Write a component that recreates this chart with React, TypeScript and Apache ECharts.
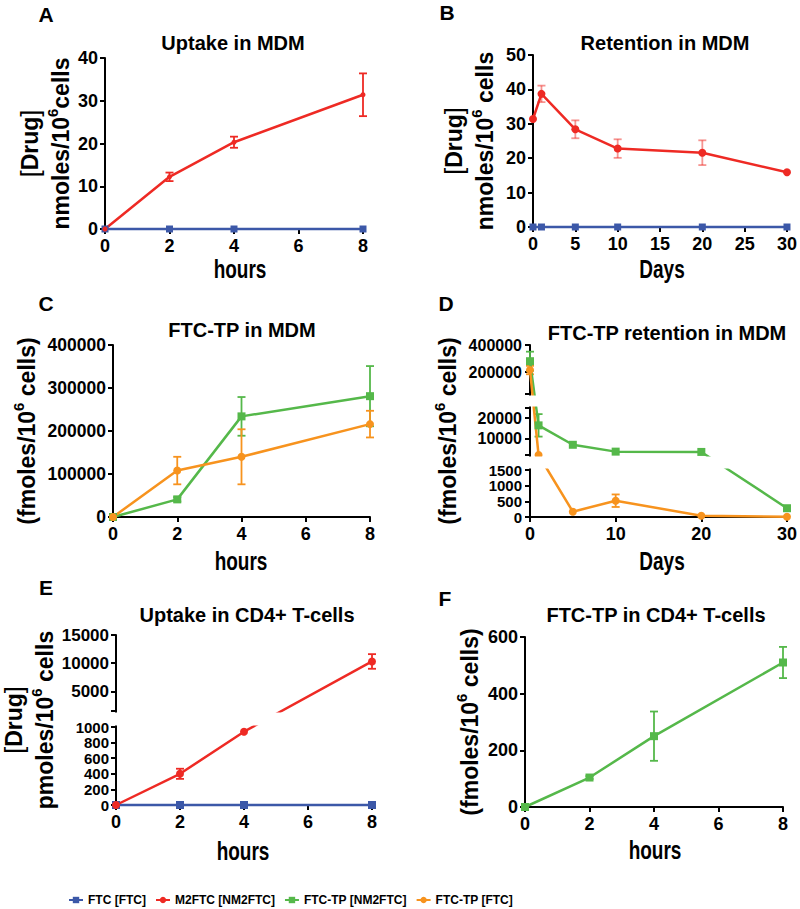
import React, { useEffect, useRef } from 'react';
import * as echarts from 'echarts';

// ---------- data ----------
const SERIES_NAMES = ['FTC [FTC]', 'M2FTC [NM2FTC]', 'FTC-TP [NM2FTC]', 'FTC-TP [FTC]'];

// Panel A: Uptake in MDM (nmoles/10^6 cells)
const hoursA = [0, 2, 4, 8];
const aFTC = [0, 0, 0, 0];
const aM2FTC = [0, 12.2, 20.3, 31.4];
const aM2FTCErr = [0, 1.0, 1.3, 5.0];

// Panel B: Retention in MDM
const daysB = [0, 1, 5, 10, 20, 30];
const bFTC = [0, 0, 0, 0, 0, 0];
const bM2FTC = [31.4, 38.7, 28.4, 22.8, 21.6, 15.9];
const bM2FTCErr = [0, 2.4, 2.6, 2.7, 3.6, 0];

// Panel C: FTC-TP in MDM (fmoles/10^6 cells)
const hoursC = [0, 2, 4, 8];
const cTPNM = [0, 41000, 234000, 281000];
const cTPNMErr = [0, 5000, 45000, 70000];
const cTPFTC = [0, 108000, 140000, 216000];
const cTPFTCErr = [0, 32000, 64000, 31000];

// Panel D: FTC-TP retention in MDM (broken axis)
const daysD = [0, 1, 5, 10, 20, 30];
const dTPNM = [281000, 16500, 7000, 3650, 3500, 280];
const dTPNMErr = [70000, 5500, 0, 0, 0, 0];
const dTPFTC = [216000, 2000, 170, 520, 40, 10];
const dTPFTCErr = [31000, 0, 0, 200, 0, 0];
const dRanges = [[0, 1500], [2000, 25000], [40000, 400000]];
const dTickLabels = [0, 500, 1000, 1500, 10000, 20000, 200000, 400000];

// Panel E: Uptake in CD4+ T-cells (pmoles/10^6 cells, broken axis)
const hoursE = [0, 2, 4, 8];
const eFTC = [0, 0, 0, 0];
const eM2FTC = [0, 400, 940, 10300];
const eM2FTCErr = [0, 65, 0, 1300];
const eRanges = [[0, 1000], [1500, 15000]];
const eTickLabels = [0, 200, 400, 600, 800, 1000, 5000, 10000, 15000];

// Panel F: FTC-TP in CD4+ T-cells
const hoursF = [0, 2, 4, 8];
const fTPNM = [0, 104, 250, 510];
const fTPNMErr = [0, 5, 87, 55];

const TITLES = ['Uptake in MDM', 'Retention in MDM', 'FTC-TP in MDM', 'FTC-TP retention in MDM', 'Uptake in CD4+ T-cells', 'FTC-TP in CD4+ T-cells'];
const LETTERS = ['A', 'B', 'C', 'D', 'E', 'F'];
const X_NAMES = ['hours', 'Days', 'hours', 'Days', 'hours', 'hours'];

// ---------- layout / style ----------
const GRIDS = [
  { left: 105, top: 58, width: 258, height: 171 },
  { left: 533, top: 55, width: 256, height: 172 },
  { left: 113, top: 345, width: 257, height: 172 },
  { left: 530, top: 345, width: 257, height: 172 },
  { left: 114, top: 635, width: 258, height: 170 },
  { left: 525, top: 637, width: 258, height: 170 },
];
const TITLE_POS = [[233, 43], [665, 43], [242, 330], [667, 333], [247, 615], [656, 615]];
const LETTER_POS = [[46, 14], [447, 12], [46, 303], [446, 303], [46, 587], [445, 598]];
const XNAME_POS = [[240, 270], [662, 270], [241, 562], [662, 562], [243, 852], [655, 851]];
const D_SEG_PX = [47, 47, 49];
const D_GAP_PX = [15, 14];
const E_SEG_PX = [78, 76];
const E_GAP_PX = [16];

const C_FTC = '#3c58a8';
const C_M2 = '#ee2a24';
const C_TPNM = '#55b84a';
const C_TPFTC = '#f7931e';
const FONT = '"Liberation Sans", Arial, sans-serif';

function makeBroken(ranges: number[][], segPx: number[], gapPx: number[]) {
  const bottoms: number[] = [];
  let acc = 0;
  for (let i = 0; i < ranges.length; i++) {
    bottoms.push(acc);
    acc += segPx[i] + (i < gapPx.length ? gapPx[i] : 0);
  }
  const total = acc;
  const map = (v: number) => {
    for (let i = 0; i < ranges.length; i++) {
      const [lo, hi] = ranges[i];
      const last = i === ranges.length - 1;
      if (v <= hi || last) {
        if (i > 0 && v < lo) {
          const phi = ranges[i - 1][1];
          return bottoms[i - 1] + segPx[i - 1] + ((v - phi) / (lo - phi)) * gapPx[i - 1];
        }
        return bottoms[i] + ((v - lo) / (hi - lo)) * segPx[i];
      }
    }
    return 0;
  };
  return { map, total, bottoms };
}

const ident = (v: number) => v;

function lineSeries(name: string, g: number, xs: number[], ys: number[], color: string, symbol: string, size: number, map = ident) {
  return {
    name,
    type: 'line',
    xAxisIndex: g,
    yAxisIndex: g,
    data: xs.map((x, i) => [x, map(ys[i])]),
    symbol,
    symbolSize: size,
    clip: false,
    lineStyle: { color, width: 2.5 },
    itemStyle: { color },
    emphasis: { disabled: true },
  };
}

function errSeries(g: number, xs: number[], ys: number[], errs: number[], color: string, map = ident, opacity = 1) {
  const data = xs
    .map((x, i) => [x, map(ys[i] - errs[i]), map(ys[i] + errs[i]), errs[i]])
    .filter((d) => d[3] > 0);
  return {
    type: 'custom',
    name: 'err',
    xAxisIndex: g,
    yAxisIndex: g,
    silent: true,
    clip: false,
    z: 3,
    data,
    encode: { x: 0, y: [1, 2] },
    renderItem: (_p: any, api: any) => {
      const x = api.value(0);
      const lo = api.coord([x, api.value(1)]);
      const hi = api.coord([x, api.value(2)]);
      const w = 4;
      const style = { stroke: color, lineWidth: 1.8, opacity };
      return {
        type: 'group',
        children: [
          { type: 'line', shape: { x1: lo[0], y1: lo[1], x2: hi[0], y2: hi[1] }, style },
          { type: 'line', shape: { x1: hi[0] - w, y1: hi[1], x2: hi[0] + w, y2: hi[1] }, style },
          { type: 'line', shape: { x1: lo[0] - w, y1: lo[1], x2: lo[0] + w, y2: lo[1] }, style },
        ],
      };
    },
  };
}

const axisLine = { show: true, onZero: false, lineStyle: { color: '#000', width: 2 } };
const axisTick = { show: true, length: 5, lineStyle: { color: '#000', width: 2 } };
const tickFont = (size: number) => ({ color: '#000', fontFamily: FONT, fontWeight: 'bold', fontSize: size });
const plain = (v: number) => String(v);

function xAxis(g: number, max: number, interval: number) {
  return {
    gridIndex: g,
    type: 'value',
    min: 0,
    max,
    interval,
    axisLine,
    axisTick,
    axisLabel: { ...tickFont(18), margin: 8, formatter: plain, showMinLabel: true, showMaxLabel: true, hideOverlap: false },
    splitLine: { show: false },
  };
}

const nameRich = {
  a: { fontFamily: FONT, fontWeight: 'bold', fontSize: 23, color: '#000', lineHeight: 31 },
  b: { fontFamily: FONT, fontWeight: 'bold', fontSize: 23, color: '#000', lineHeight: 31 },
  bn: { fontFamily: FONT, fontWeight: 'normal', fontSize: 25, color: '#000', lineHeight: 31 },
  s: { fontFamily: FONT, fontWeight: 'bold', fontSize: 15, color: '#000', lineHeight: 20, verticalAlign: 'top' },
};

function yName(text: string, nameGap: number) {
  return {
    name: text,
    nameLocation: 'middle',
    nameRotate: 90,
    nameGap,
    nameTextStyle: { rich: nameRich },
  };
}

export default function App() {
  const ref = useRef<HTMLDivElement>(null);
  useEffect(() => {
    if (!ref.current) return;
    const chart = echarts.init(ref.current, undefined, { renderer: 'svg' });

    const dScale = makeBroken(dRanges, D_SEG_PX, D_GAP_PX);
    const eScale = makeBroken(eRanges, E_SEG_PX, E_GAP_PX);

    const dTicks = Array.from(new Set([...dTickLabels, ...dRanges.flat()])).map((v) => dScale.map(v));
    const dLabelPos = dTickLabels.map((v) => dScale.map(v));
    const eTicks = Array.from(new Set([...eTickLabels, ...eRanges.flat()])).map((v) => eScale.map(v));
    const eLabelPos = eTickLabels.map((v) => eScale.map(v));

    const findLabel = (pos: number[], labels: number[], v: number) => {
      for (let i = 0; i < pos.length; i++) if (Math.abs(pos[i] - v) < 0.01) return labels[i];
      return null;
    };

    const gapRects = (gIdx: number, scale: any, segPx: number[], gapPx: number[]) => {
      const g = GRIDS[gIdx];
      const base = g.top + g.height;
      return gapPx.map((gp, i) => {
        const bottomPx = base - (scale.bottoms[i] + segPx[i]);
        const topPx = bottomPx - gp;
        return {
          type: 'rect',
          z: 100,
          shape: { x: g.left - 3, y: topPx + 1.5, width: g.width + 14, height: gp - 3 },
          style: { fill: '#ffffff' },
        };
      });
    };

    const yLbl = (size: number) => ({ ...tickFont(size), margin: 7, formatter: plain, showMinLabel: true, showMaxLabel: true, hideOverlap: false });

    const option: any = {
      animation: false,
      backgroundColor: '#ffffff',
      grid: GRIDS.map((g) => ({ ...g, containLabel: false })),
      legend: {
        data: SERIES_NAMES,
        left: 63,
        top: 889,
        itemWidth: 14,
        itemHeight: 8,
        itemGap: 9,
        selectedMode: false,
        textStyle: { fontFamily: FONT, fontWeight: 'bold', fontSize: 12, color: '#000' },
      },
      xAxis: [
        xAxis(0, 8, 2),
        xAxis(1, 30, 5),
        xAxis(2, 8, 2),
        xAxis(3, 30, 10),
        xAxis(4, 8, 2),
        xAxis(5, 8, 2),
      ],
      yAxis: [
        {
          gridIndex: 0, type: 'value', min: 0, max: 40, interval: 10,
          ...yName('{bn|[}{b|Drug}{bn|]}\n{a|nmoles/10}{s|6}{a|cells}', 29),
          axisLine, axisTick, axisLabel: yLbl(18), splitLine: { show: false },
        },
        {
          gridIndex: 1, type: 'value', min: 0, max: 50, interval: 10,
          ...yName('{bn|[}{b|Drug}{bn|]}\n{a|nmoles/10}{s|6}{a| cells}', 33),
          axisLine, axisTick, axisLabel: yLbl(18), splitLine: { show: false },
        },
        {
          gridIndex: 2, type: 'value', min: 0, max: 400000, interval: 100000,
          ...yName('{a|(fmoles/10}{s|6}{a| cells)}', 71),
          axisLine, axisTick, axisLabel: yLbl(17.5), splitLine: { show: false },
        },
        {
          gridIndex: 3, type: 'value', min: 0, max: dScale.total,
          ...yName('{a|(fmoles/10}{s|6}{a| cells)}', 67),
          axisLine,
          axisTick: { ...axisTick, customValues: dTicks },
          axisLabel: {
            ...tickFont(16), margin: 8, customValues: dLabelPos,
            showMinLabel: true, showMaxLabel: true, hideOverlap: false,
            formatter: (v: number) => {
              const l = findLabel(dLabelPos, dTickLabels, v);
              if (l == null) return '';
              return l <= 1500 ? `{s|${l}}` : `{l|${l}}`;
            },
            rich: {
              s: { fontFamily: FONT, fontWeight: 'bold', fontSize: 15, lineHeight: 14, color: '#000' },
              l: { fontFamily: FONT, fontWeight: 'bold', fontSize: 16, color: '#000' },
            },
          },
          splitLine: { show: false },
        },
        {
          gridIndex: 4, type: 'value', min: 0, max: eScale.total,
          ...yName('{bn|[}{b|Drug}{bn|]}\n{a|pmoles/10}{s|6}{a| cells}', 56),
          axisLine,
          axisTick: { ...axisTick, customValues: eTicks },
          axisLabel: {
            ...tickFont(17), margin: 7, customValues: eLabelPos,
            showMinLabel: true, showMaxLabel: true, hideOverlap: false,
            formatter: (v: number) => {
              const l = findLabel(eLabelPos, eTickLabels, v);
              if (l == null) return '';
              return l <= 1000 ? `{s|${l}}` : `{l|${l}}`;
            },
            rich: {
              s: { fontFamily: FONT, fontWeight: 'bold', fontSize: 15, lineHeight: 14, color: '#000' },
              l: { fontFamily: FONT, fontWeight: 'bold', fontSize: 17, color: '#000' },
            },
          },
          splitLine: { show: false },
        },
        {
          gridIndex: 5, type: 'value', min: 0, max: 600, interval: 200,
          ...yName('{a|(fmoles/10}{s|6}{a| cells)}', 40),
          axisLine, axisTick, axisLabel: yLbl(18), splitLine: { show: false },
        },
      ],
      series: [
        // A
        lineSeries(SERIES_NAMES[0], 0, hoursA, aFTC, C_FTC, 'rect', 7),
        lineSeries(SERIES_NAMES[1], 0, hoursA, aM2FTC, C_M2, 'circle', 5),
        errSeries(0, hoursA, aM2FTC, aM2FTCErr, C_M2),
        // B
        lineSeries(SERIES_NAMES[0], 1, daysB, bFTC, C_FTC, 'rect', 7),
        lineSeries(SERIES_NAMES[1], 1, daysB, bM2FTC, C_M2, 'circle', 8),
        errSeries(1, daysB, bM2FTC, bM2FTCErr, C_M2, ident, 0.5),
        // C
        lineSeries(SERIES_NAMES[2], 2, hoursC, cTPNM, C_TPNM, 'rect', 8),
        lineSeries(SERIES_NAMES[3], 2, hoursC, cTPFTC, C_TPFTC, 'circle', 8),
        errSeries(2, hoursC, cTPNM, cTPNMErr, C_TPNM),
        errSeries(2, hoursC, cTPFTC, cTPFTCErr, C_TPFTC),
        // D
        lineSeries(SERIES_NAMES[2], 3, daysD, dTPNM, C_TPNM, 'rect', 8, dScale.map),
        lineSeries(SERIES_NAMES[3], 3, daysD, dTPFTC, C_TPFTC, 'circle', 8, dScale.map),
        errSeries(3, daysD, dTPNM, dTPNMErr, C_TPNM, dScale.map),
        errSeries(3, daysD, dTPFTC, dTPFTCErr, C_TPFTC, dScale.map),
        // E
        lineSeries(SERIES_NAMES[0], 4, hoursE, eFTC, C_FTC, 'rect', 8, eScale.map),
        lineSeries(SERIES_NAMES[1], 4, hoursE, eM2FTC, C_M2, 'circle', 8, eScale.map),
        errSeries(4, hoursE, eM2FTC, eM2FTCErr, C_M2, eScale.map),
        // F
        lineSeries(SERIES_NAMES[2], 5, hoursF, fTPNM, C_TPNM, 'rect', 8),
        errSeries(5, hoursF, fTPNM, fTPNMErr, C_TPNM),
      ],
      graphic: {
        elements: [
          ...TITLES.map((t, i) => ({
            type: 'text',
            x: TITLE_POS[i][0],
            y: TITLE_POS[i][1],
            style: {
              text: t, fill: '#000', font: `bold 20px ${FONT}`,
              align: 'center', verticalAlign: 'middle', textAlign: 'center', textVerticalAlign: 'middle',
            },
          })),
          ...LETTERS.map((t, i) => ({
            type: 'text',
            x: LETTER_POS[i][0],
            y: LETTER_POS[i][1],
            style: {
              text: t, fill: '#000', font: `bold 21px ${FONT}`,
              align: 'center', verticalAlign: 'middle', textAlign: 'center', textVerticalAlign: 'middle',
            },
          })),
          ...X_NAMES.map((t, i) => ({
            type: 'text',
            x: XNAME_POS[i][0],
            y: XNAME_POS[i][1],
            scaleX: 0.76,
            style: {
              text: t, fill: '#000', font: `bold 25px ${FONT}`,
              align: 'center', verticalAlign: 'middle', textAlign: 'center', textVerticalAlign: 'middle',
            },
          })),
          ...gapRects(3, dScale, D_SEG_PX, D_GAP_PX),
          ...gapRects(4, eScale, E_SEG_PX, E_GAP_PX),
        ],
      },
    };
    chart.setOption(option);
    return () => chart.dispose();
  }, []);
  return (
    <div
      ref={ref}
      style={{ position: 'fixed', left: 0, top: 0, width: 800, height: 909, background: '#fff' }}
    />
  );
}
